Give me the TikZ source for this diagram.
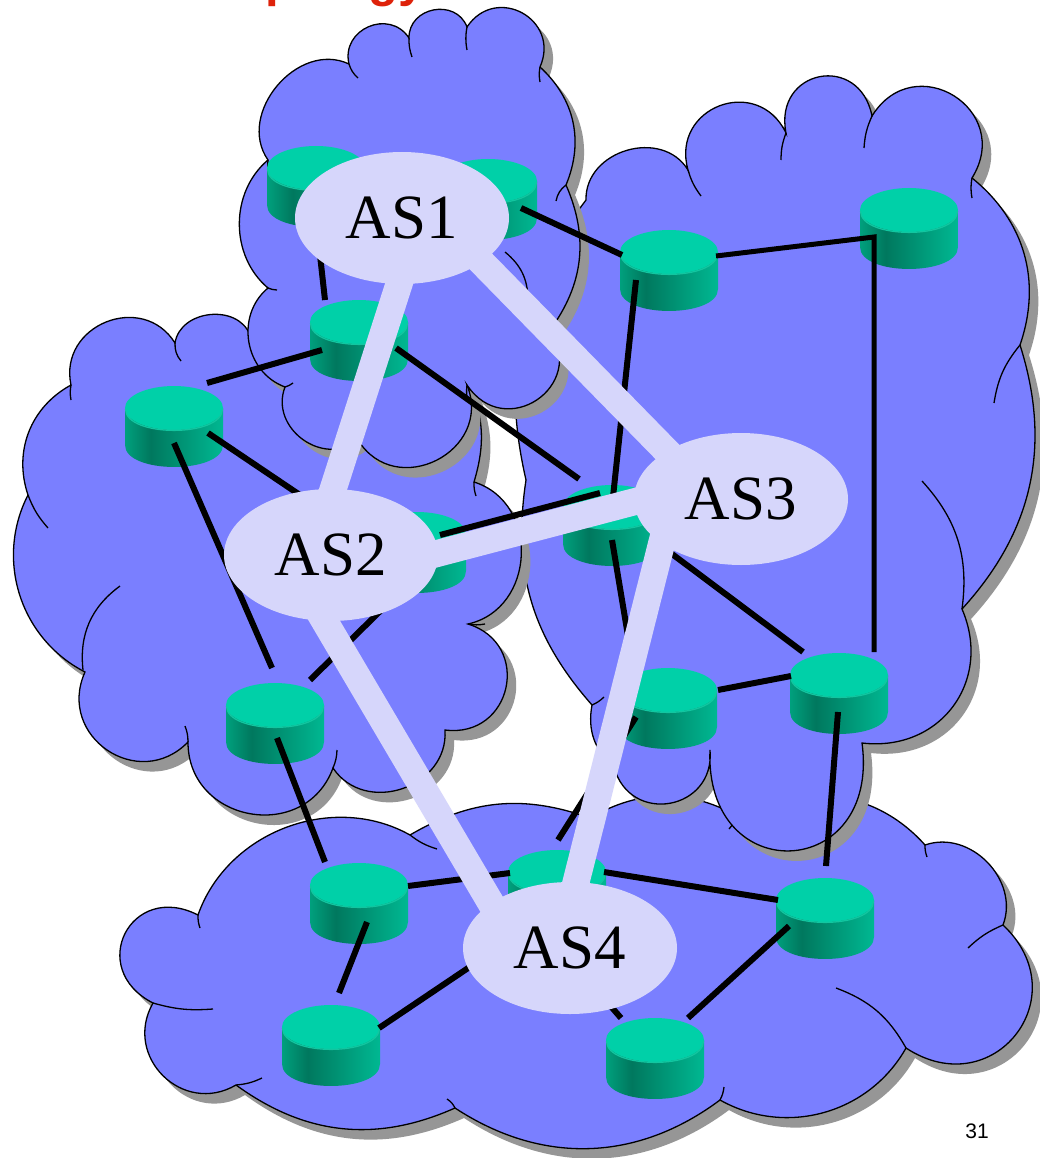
\documentclass[tikz,border=0pt]{standalone}
\usepackage{fontspec}
\setmainfont{Liberation Serif}
\newfontfamily\labelserif{Liberation Serif}
\newfontfamily\plainsans{Liberation Sans}
\usetikzlibrary{shapes.geometric,calc}

\definecolor{cloudblue}{RGB}{122,127,255}
\definecolor{cloudshade}{RGB}{150,150,150}
\definecolor{aslav}{RGB}{214,214,251}
\definecolor{cyltop}{RGB}{0,208,168}
\definecolor{cylrim}{RGB}{18,198,160}
\definecolor{cylA}{RGB}{0,160,125}
\definecolor{cylB}{RGB}{0,120,94}
\definecolor{cylC}{RGB}{0,184,146}
\definecolor{titlered}{RGB}{222,34,10}

\pgfdeclarehorizontalshading{cylside}{100bp}{color(0bp)=(cylA); color(25bp)=(cylA); color(38bp)=(cylB); color(75bp)=(cylC); color(100bp)=(cylC)}

% cylinder router: #1 name, (#2,#3) centre of the top face
\newcommand\routerat[3]{%
  \coordinate (#1) at (#2,#3);
  \shade[shading=cylside] (#2-49,#3) -- (#2-49,#3+37)
    .. controls (#2-49,#3+66.3) and (#2+49,#3+66.3) .. (#2+49,#3+37) -- (#2+49,#3) -- cycle;
  \fill[cyltop] (#1) ellipse [x radius=49, y radius=22];
  \draw[cylrim, line width=1.3] (#2-48.5,#3+1)
    .. controls (#2-48.5,#3+29.5) and (#2+48.5,#3+29.5) .. (#2+48.5,#3+1);
}

% cloud outlines, traced clockwise, one bulging lobe per segment
\newcommand\cloudpathfour{(198,915) to[lb={50}{1}] (410,835) to[lb={25}{1}] (590,818)
  to[lb={30}{1}] (741,818) to[lb={40}{1}] (925,845) to[lb={65}{1.1}] (1003,925)
  to[lb={85}{1.7}] (906,1048) to[lb={45}{1}] (720,1100) to[lb={35}{1}] (455,1108)
  to[lb={30}{1}] (236,1085) to[lb={75}{1.35}] (153,1003) to[lb={90}{1.95}] (198,915) -- cycle}
\newcommand\cloudpaththree{(586,200) to[lb={75}{1.2}] (688,170) to[lb={85}{1.6}] (786,133)
  to[lb={90}{1.9}] (872,116) to[lb={90}{1.75}] (972,178) to[lb={35}{1}] (1020,345)
  to[lb={30}{1}] (962,609) to[lb={60}{1.2}] (862,743) to[lb={95}{2.35}] (710,750)
  to[lb={85}{1.6}] (614,767) to[lb={30}{1}] (592,705) to[lb={25}{1}] (526,480)
  to[lb={25}{1}] (586,200) -- cycle}
\newcommand\cloudpathtwo{(71,385) to[lb={80}{1.4}] (175,343) to[lb={75}{1.15}] (250,335)
  to[lb={20}{1}] (468,380) to[lb={20}{1}] (474,482) to[lb={75}{1.25}] (468,624)
  to[lb={85}{1.6}] (445,730) to[lb={75}{1.25}] (333,768) to[lb={80}{1.4}] (188,742)
  to[lb={80}{1.45}] (85,672) to[lb={45}{1}] (28,495) to[lb={40}{1}] (71,385) -- cycle}
\newcommand\cloudpathone{(268,160) to[lb={75}{1.15}] (349,64) to[lb={80}{1.4}] (409,38)
  to[lb={80}{1.35}] (467,27) to[lb={85}{1.6}] (540,67) to[lb={35}{1}] (566,185)
  to[lb={30}{1}] (550,330) to[lb={90}{1.75}] (467,385) to[lb={85}{1.5}] (358,440)
  to[lb={75}{1.25}] (285,387) to[lb={60}{1.1}] (268,288) to[lb={50}{1}] (268,160) -- cycle}

\begin{document}
\begin{tikzpicture}[x=1pt,y=-1pt,
  lb/.style 2 args={bend left=#1,looseness=#2},
  cloudbody/.style={fill=cloudblue, draw=black, line width=1.3},
  cloudshadow/.style={fill=cloudshade, shift={(9,10)}},
  innerarc/.style={draw=black, line width=1.3},
  wire/.style={draw=black, line width=6},
  aslink/.style={draw=aslav, line width=27},
  asbubble/.style={ellipse, fill=aslav, minimum width=214, minimum height=132,
    inner sep=0pt, font=\labelserif\fontsize{63}{63}\selectfont}]

\fill[white] (0,0) rectangle (1040,1158);
\useasboundingbox (0,0) rectangle (1040,1158);

% heading, cut by the top edge: only its descenders reach the page
\node[anchor=base west, inner sep=0pt, text=titlered,
  font=\plainsans\bfseries\fontsize{49}{49}\selectfont]
  (heading) at (209,-3) {Topology};

% ---- AS4 cloud (bottom)
\fill[cloudshadow] \cloudpathfour;
\path[cloudbody] \cloudpathfour;
\draw[innerarc] (198,915) to[bend right=10] (200,928);
\draw[innerarc] (153,1003) to[bend right=10] (213,1009);
\draw[innerarc] (236,1085) to[bend right=10] (262,1078);
\draw[innerarc] (455,1108) to[bend right=15] (447,1099);
\draw[innerarc] (720,1100) to[bend right=10] (724,1087);
\draw[innerarc] (906,1048) to[bend right=20] (836,988);
\draw[innerarc] (1003,925) to[bend right=10] (968,948);
\draw[innerarc] (925,845) to[bend right=10] (927,857);
\draw[innerarc] (741,818) to[bend right=10] (729,829);
\draw[innerarc] (410,835) to[bend right=10] (437,849);

% ---- AS3 cloud (right)
\fill[cloudshadow] \cloudpaththree;
\path[cloudbody] \cloudpaththree;
\draw[innerarc] (688,170) to[bend right=10] (701,196);
\draw[innerarc] (786,133) to[bend right=10] (781,160);
\draw[innerarc] (872,116) to[bend right=10] (864,148);
\draw[innerarc] (972,178) to[bend right=10] (972,198);
\draw[innerarc] (1020,345) to[bend right=15] (994,403);
\draw[innerarc] (962,609) to[bend right=25] (922,481);
\draw[innerarc] (592,705) to[bend right=10] (604,697);

% ---- AS2 cloud (left)
\fill[cloudshadow] \cloudpathtwo;
\path[cloudbody] \cloudpathtwo;
\draw[innerarc] (71,385) to[bend right=10] (71,400);
\draw[innerarc] (175,343) to[bend right=20] (181,361);
\draw[innerarc] (28,495) to[bend right=10] (48,528);
\draw[innerarc] (120,586) to[bend right=30] (83,670);
\draw[innerarc] (188,742) to[bend right=10] (185,726);
\draw[innerarc] (333,768) to[bend right=10] (337,750);
\draw[innerarc] (468,624) to[bend right=10] (485,624);
\draw[innerarc] (474,482) to[bend right=10] (476,496);

% ---- AS1 cloud (top)
\fill[cloudshadow] \cloudpathone;
\path[cloudbody] \cloudpathone;
\draw[innerarc] (268,160) to[bend right=10] (270,180);
\draw[innerarc] (349,64) to[bend right=15] (358,78);
\draw[innerarc] (409,38) to[bend right=10] (412,57);
\draw[innerarc] (467,27) to[bend right=10] (467,50);
\draw[innerarc] (540,67) to[bend right=10] (540,82);
\draw[innerarc] (566,185) to[bend right=20] (556,201);
\draw[innerarc] (505,252) to[bend left=25] (528,300);
\draw[innerarc] (268,288) to[bend right=10] (277,290);
\draw[innerarc] (285,387) to[bend right=10] (293,383);
\draw[innerarc] (467,385) to[bend right=10] (468,402);

% ---- routers
\routerat{r1}{316}{168}
\routerat{r2}{488}{181}
\routerat{r3}{359}{322}
\routerat{r4}{669}{252}
\routerat{r5}{909}{210}
\routerat{r6}{174}{408}
\routerat{r7}{417}{534}
\routerat{r8}{275}{705}
\routerat{r9}{612}{507}
\routerat{r10}{668}{690}
\routerat{r11}{839}{675}
\routerat{r12}{359}{885}
\routerat{r13}{557}{872}
\routerat{r14}{825}{900}
\routerat{r15}{331}{1027}
\routerat{r16}{655}{1040}

% ---- AS bubbles (placed first so links can refer to them)
\path node[asbubble, fill=none] (as1) at (402,218) {}
      node[asbubble, fill=none] (as2) at (331,555) {}
      node[asbubble, fill=none] (as3) at (741,499) {}
      node[asbubble, fill=none] (as4) at (570,948) {};

% ---- physical links between routers
\draw[wire] ($(r2)+(33,27)$) -- ($(r4)+(-47,3)$);
\draw[wire, line width=5] ($(r4)+(47,4)$) -- ($(r5)+(-35,27)$) -- ($(r11)+(35,-23)$);
\draw[wire] ($(r4)+(-33,28)$) -- ($(r9)+(1,-10)$);
\draw[wire] ($(r3)+(-34,-22)$) -- ($(r1)+(4,87)$);
\draw[wire] ($(r3)+(-37,28)$) -- ($(r6)+(33,-25)$);
\draw[wire] ($(r3)+(37,26)$) -- ($(r9)+(-33,-28)$);
\draw[wire] ($(r6)+(34,25)$) -- ($(r7)+(-117,-39)$);
\draw[wire] ($(r6)+(0,35)$) -- ($(r8)+(-3,-37)$);
\draw[wire] ($(r8)+(35,-25)$) -- ($(r7)+(3,38)$);
\draw[wire] ($(r7)+(23,1)$) -- ($(r9)+(-12,-14)$);
\draw[wire] ($(r9)+(0,33)$) -- ($(r10)+(-36,-30)$);
\draw[wire] ($(r9)+(40,32)$) -- ($(r11)+(-36,-23)$);
\draw[wire] ($(r10)+(50,0)$) -- ($(r11)+(-48,1)$);
\draw[wire] ($(r11)+(-1,37)$) -- ($(r14)+(1,-34)$);
\draw[wire] ($(r10)+(-32,27)$) -- ($(r13)+(1,-32)$);
\draw[wire] ($(r12)+(49,1)$) -- ($(r13)+(-47,1)$);
\draw[wire] ($(r13)+(47,0)$) -- ($(r14)+(-47,0)$);
\draw[wire] ($(r12)+(-34,-23)$) -- ($(r8)+(2,33)$);
\draw[wire] ($(r12)+(8,37)$) -- ($(r15)+(8,-34)$);
\draw[wire] ($(r15)+(48,1)$) -- ($(as4)+(-90,12)$);
\draw[wire] ($(as4)+(5,17)$) -- ($(r16)+(-34,-22)$);
\draw[wire] ($(r14)+(-36,26)$) -- ($(r16)+(33,-22)$);

% ---- inter-AS links
\draw[aslink] ($(as1)+(16,7)$) -- ($(as2)+(-3,-50)$);
\draw[aslink] ($(as1)+(53,17)$) -- ($(as3)+(-51,-24)$);
\draw[aslink] ($(as2)+(89,3)$) -- ($(as3)+(-81,-4)$);
\draw[aslink] ($(as2)+(-13,55)$) -- ($(as4)+(-65,-21)$);
\draw[aslink] ($(as3)+(-76,31)$) -- ($(as4)+(2,-50)$);

% ---- AS labels
\node[asbubble] (as1label) at (as1) {AS1};
\node[asbubble] (as2label) at (as2) {AS2};
\node[asbubble] (as3label) at (as3) {AS3};
\node[asbubble] (as4label) at (as4) {AS4};

% page number
\node[font=\plainsans\fontsize{21}{21}\selectfont] (pagenum) at (977,1131) {31};
\end{tikzpicture}
\end{document}
